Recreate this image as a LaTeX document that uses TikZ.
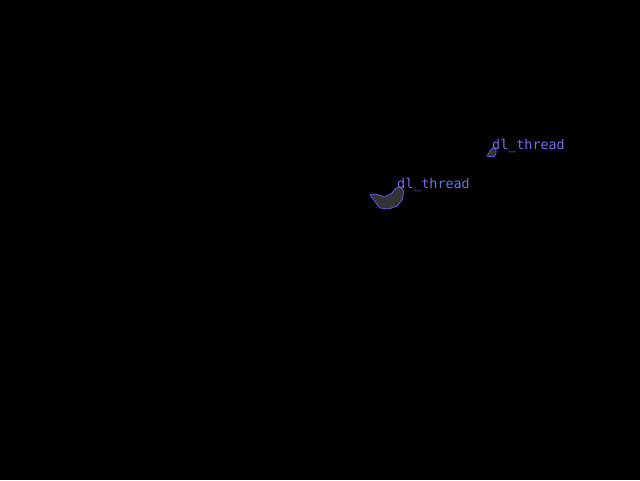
\documentclass[tikz,border=0pt]{standalone}
\usepackage{fontspec}
\setmonofont{DejaVu Sans Mono}
\definecolor{edgeblue}{HTML}{5A5AE6}
\definecolor{textblue}{HTML}{6E6EF0}
\definecolor{blobgray}{HTML}{333333}
\tikzset{
	blob/.style={draw=edgeblue, fill=blobgray, line width=0.8pt},
	threadlabel/.style={text=textblue, font=\ttfamily\fontsize{13.4}{15}\selectfont, inner sep=0pt, anchor=base west}
}
\begin{document}
\begin{tikzpicture}[x=1pt, y=-1pt]
		\fill[black] (0,0) rectangle (640,480);
		\useasboundingbox (0,0) rectangle (640,480);
	
		\draw[blob] (370,195) -- (375,194) -- (385,197) -- (392,193) -- (396,188)
			-- (401,187) -- (404,192) -- (402,200) -- (397,206) -- (389,209)
			-- (380,208) -- (376,203) -- cycle;
		\draw[blob] (487,156) -- (490,151) -- (493,148) -- (496,148) -- (496,154)
			-- (494,157) -- cycle;
	
		\node[threadlabel] (threadA) at (397,188) {dl\_thread};
		\node[threadlabel] (threadB) at (492,149) {dl\_thread};
	\end{tikzpicture}
\end{document}
